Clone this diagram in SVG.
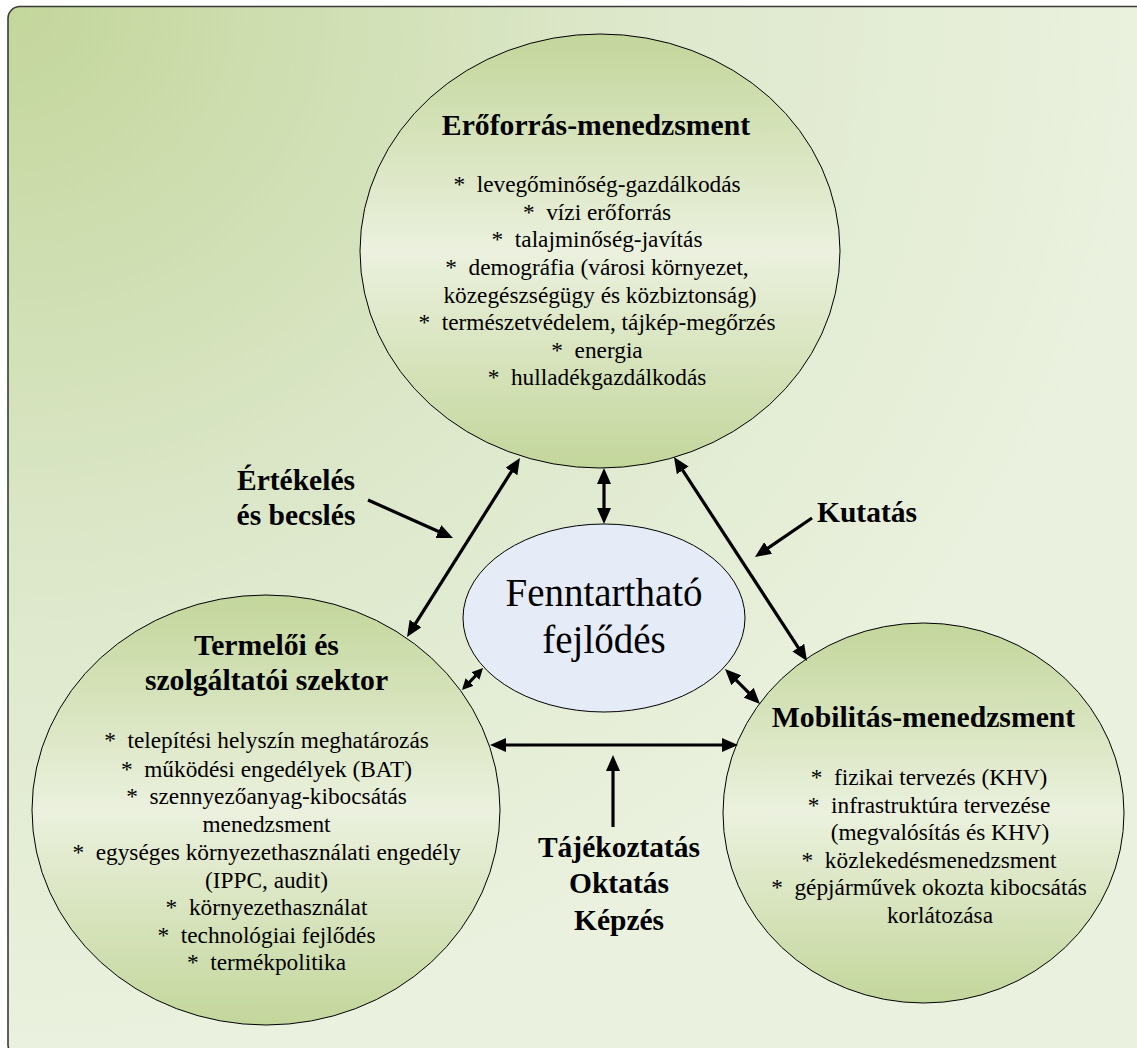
<svg xmlns="http://www.w3.org/2000/svg" width="1137" height="1048" viewBox="0 0 1137 1048">
  <defs>
    <radialGradient id="bg" cx="0" cy="0" r="1" gradientUnits="objectBoundingBox">
      <stop offset="0" stop-color="#c3d69b"/>
      <stop offset="0.55" stop-color="#dde8cb"/>
      <stop offset="1" stop-color="#eaf1de"/>
    </radialGradient>
    <linearGradient id="ball" x1="0" y1="0" x2="0" y2="1">
      <stop offset="0" stop-color="#c3d69b"/>
      <stop offset="0.5" stop-color="#ebf1de"/>
      <stop offset="1" stop-color="#c3d69b"/>
    </linearGradient>
    <marker id="head" viewBox="0 0 16 14" refX="2" refY="7" markerWidth="16" markerHeight="14" markerUnits="userSpaceOnUse" orient="auto-start-reverse">
      <path d="M0,0 L16,7 L0,14 z" fill="#000"/>
    </marker>
    <marker id="headS" viewBox="0 0 11 11" refX="2" refY="5.5" markerWidth="11" markerHeight="11" markerUnits="userSpaceOnUse" orient="auto-start-reverse">
      <path d="M0,0 L11,5.5 L0,11 z" fill="#000"/>
    </marker>
    <style>
      .ball { fill: url(#ball); stroke: #000; stroke-width: 1; }
      .core { fill: #e5ebf7; stroke: #000; stroke-width: 1; }
      .t { fill: #000; white-space: pre; }
      .title { font-size: 29.7px; font-weight: bold; text-anchor: middle; }
      .item { font-size: 23.3px; text-anchor: middle; }
      .label { font-size: 29.5px; font-weight: bold; }
      .mid { text-anchor: middle; }
      .core-text { font-size: 39px; text-anchor: middle; }
      .link { stroke: #000; stroke-width: 3.2; fill: none; }
      .both { marker-start: url(#head); marker-end: url(#head); }
      .bothS { marker-start: url(#headS); marker-end: url(#headS); }
      .one { marker-end: url(#head); }
    </style>
  </defs>

  <!-- backdrop panel -->
  <rect x="8" y="6.5" width="1140" height="1050" rx="12" ry="12" fill="url(#bg)" stroke="#3a3a3a" stroke-width="1.6"/>

  <g font-family="'Liberation Serif', 'Times New Roman', serif">
    <!-- top node -->
    <g id="eroforras">
      <ellipse class="ball" cx="600" cy="251" rx="240" ry="217"/>
      <text class="t title" x="596" y="135">Erőforrás-menedzsment</text>
      <text class="t item" x="597" y="192">*  levegőminőség-gazdálkodás</text>
      <text class="t item" x="597" y="220">*  vízi erőforrás</text>
      <text class="t item" x="597" y="247">*  talajminőség-javítás</text>
      <text class="t item" x="597" y="275">*  demográfia (városi környezet,</text>
      <text class="t item" x="600" y="303">közegészségügy és közbiztonság)</text>
      <text class="t item" x="597" y="330">*  természetvédelem, tájkép-megőrzés</text>
      <text class="t item" x="597" y="358">*  energia</text>
      <text class="t item" x="597" y="385">*  hulladékgazdálkodás</text>
    </g>

    <!-- lower-left node -->
    <g id="termeloi">
      <ellipse class="ball" cx="266" cy="810" rx="234" ry="215"/>
      <text class="t title" x="266.5" y="655">Termelői és</text>
      <text class="t title" x="266.5" y="690">szolgáltatói szektor</text>
      <text class="t item" x="266.5" y="748">*  telepítési helyszín meghatározás</text>
      <text class="t item" x="266.5" y="777">*  működési engedélyek (BAT)</text>
      <text class="t item" x="266.5" y="804">*  szennyezőanyag-kibocsátás</text>
      <text class="t item" x="266.5" y="832">menedzsment</text>
      <text class="t item" x="266.5" y="860">*  egységes környezethasználati engedély</text>
      <text class="t item" x="266.5" y="888">(IPPC, audit)</text>
      <text class="t item" x="266.5" y="915">*  környezethasználat</text>
      <text class="t item" x="266.5" y="943">*  technológiai fejlődés</text>
      <text class="t item" x="266.5" y="970">*  termékpolitika</text>
    </g>

    <!-- lower-right node -->
    <g id="mobilitas">
      <ellipse class="ball" cx="923.5" cy="813" rx="200.5" ry="190"/>
      <text class="t title" x="923.5" y="727">Mobilitás-menedzsment</text>
      <text class="t item" x="929" y="785">*  fizikai tervezés (KHV)</text>
      <text class="t item" x="929" y="813">*  infrastruktúra tervezése</text>
      <text class="t item" x="940" y="840">(megvalósítás és KHV)</text>
      <text class="t item" x="929" y="868">*  közlekedésmenedzsment</text>
      <text class="t item" x="929" y="895">*  gépjárművek okozta kibocsátás</text>
      <text class="t item" x="940" y="923">korlátozása</text>
    </g>

    <!-- central node -->
    <g id="fenntarthato">
      <ellipse class="core" cx="604" cy="618" rx="141" ry="94"/>
      <text class="t core-text" x="604" y="606">Fenntartható</text>
      <text class="t core-text" x="604" y="653">fejlődés</text>
    </g>

    <!-- side labels -->
    <g id="ertekeles">
      <text class="t label mid" x="296" y="490">Értékelés</text>
      <text class="t label mid" x="296" y="525">és becslés</text>
    </g>
    <g id="kutatas">
      <text class="t label" x="817" y="522">Kutatás</text>
    </g>
    <g id="tajekoztatas">
      <text class="t label mid" x="619" y="857">Tájékoztatás</text>
      <text class="t label mid" x="619" y="893">Oktatás</text>
      <text class="t label mid" x="619" y="930">Képzés</text>
    </g>
  </g>

  <!-- connectors -->
  <g id="connectors">
    <line class="link both" x1="414.5" y1="625.2" x2="512.5" y2="469.8"/>
    <line class="link both" x1="604" y1="482" x2="604" y2="510"/>
    <line class="link both" x1="681.6" y1="468.7" x2="799.4" y2="649.3"/>
    <line class="link bothS" x1="476.8" y1="674.5" x2="468.2" y2="683.5"/>
    <line class="link both" x1="734.9" y1="678.9" x2="750.1" y2="694.1"/>
    <line class="link both" x1="504" y1="745" x2="724" y2="745"/>
    <line class="link one" x1="613" y1="827" x2="613" y2="769"/>
    <line class="link one" x1="368" y1="500" x2="440.2" y2="532.3"/>
    <line class="link one" x1="812" y1="518" x2="766.5" y2="549.1"/>
  </g>
</svg>
